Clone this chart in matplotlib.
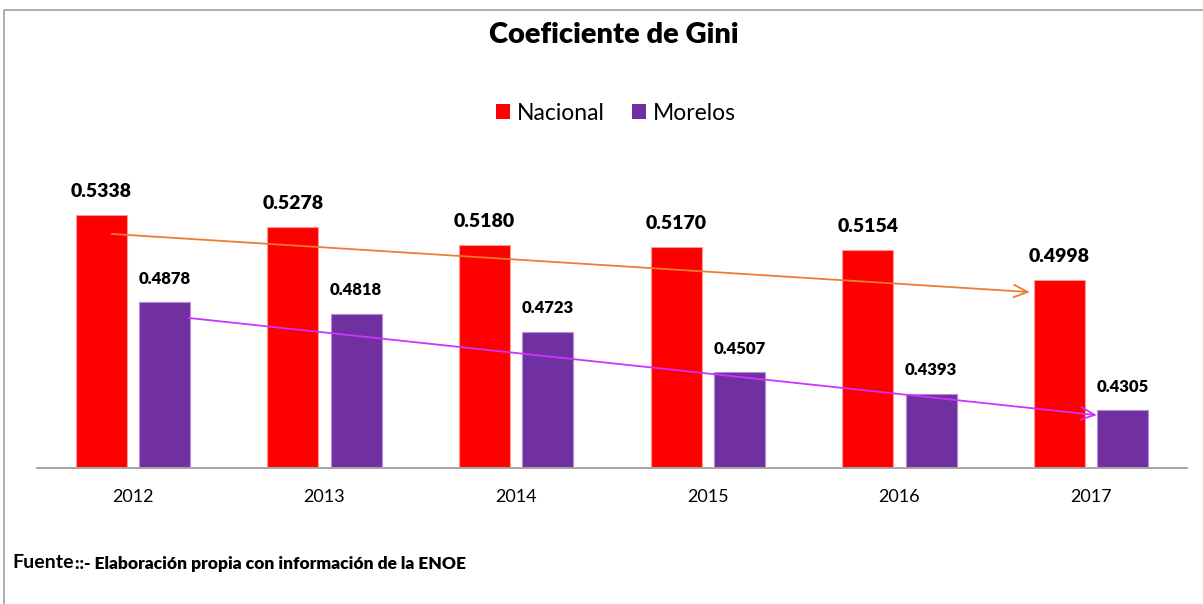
import numpy as np
import matplotlib
matplotlib.use("Agg")
import matplotlib.pyplot as plt
from matplotlib.patches import Patch
from matplotlib.lines import Line2D

plt.rcParams["font.family"] = ["Lato", "DejaVu Sans"]

# Gini values per year
years = ["2012", "2013", "2014", "2015", "2016", "2017"]
nacional = [0.5338, 0.5278, 0.5180, 0.5170, 0.5154, 0.4998]
morelos = [0.4878, 0.4818, 0.4723, 0.4507, 0.4393, 0.4305]

# Trend arrows: (x0, y0, x1, y1) in category / value units
trend_nacional = (-0.11, 0.524, 4.68, 0.4932)
trend_morelos = (0.29, 0.4795, 5.03, 0.428)

RED = "#FF0000"
PURPLE = "#7030A0"

fig = plt.figure(figsize=(12.03, 6.04), dpi=100)
ax = fig.add_axes([37 / 1203, 1 - 468 / 604, 1150 / 1203, 302 / 604])

x = np.arange(len(years))
w = 0.265
ax.bar(x - 0.165, nacional, w, color=RED, edgecolor="#FF9999", linewidth=0.8, zorder=2)
ax.bar(x + 0.165, morelos, w, color=PURPLE, edgecolor="#B48CD0", linewidth=0.8, zorder=2)

for xi, v in zip(x, nacional):
    ax.annotate(f"{v:.4f}", (xi - 0.165, v), xytext=(0, 17), textcoords="offset points",
                ha="center", va="center", fontsize=14, fontweight="heavy")
for xi, v in zip(x, morelos):
    ax.annotate(f"{v:.4f}", (xi + 0.165, v), xytext=(0, 17), textcoords="offset points",
                ha="center", va="center", fontsize=12, fontweight="heavy")

# trend arrows with open heads
for (x0, y0, x1, y1), col in [(trend_nacional, "#ED7D31"), (trend_morelos, "#CC33FF")]:
    ax.annotate("", xy=(x1, y1), xytext=(x0, y0),
                arrowprops=dict(arrowstyle="->,head_length=1.0,head_width=0.45",
                                color=col, lw=1.3, shrinkA=0, shrinkB=0), zorder=3)

ax.set_xlim(-0.5, len(years) - 0.5)
ax.set_ylim(0.40, 0.56)
ax.set_xticks(x)
ax.set_xticklabels(years, fontsize=13)
ax.tick_params(axis="x", length=0, pad=15)
ax.set_yticks([])
for s in ["top", "right", "left"]:
    ax.spines[s].set_visible(False)
ax.spines["bottom"].set_color("#A6A6A6")
ax.spines["bottom"].set_linewidth(1.4)

fig.text(614 / 1203, 1 - 35 / 604, "Coeficiente de Gini", ha="center", va="center",
         fontsize=21, fontweight="heavy")

handles = [Patch(facecolor=RED, label="Nacional"), Patch(facecolor=PURPLE, label="Morelos")]
fig.legend(handles=handles, loc="center", bbox_to_anchor=(616 / 1203, 1 - 113 / 604),
           ncol=2, frameon=False, fontsize=16.5, handlelength=0.6, handleheight=0.6,
           handletextpad=0.3, columnspacing=1.2)

# source note: "Fuente" followed directly by the smaller text
src = fig.text(12 / 1203, 1 - 563 / 604, "Fuente", ha="left", va="center",
               fontsize=14, fontweight="bold")
ax.annotate("::- Elaboración propia con información de la ENOE", xy=(1, 0.45),
            xycoords=src, xytext=(1, 0), textcoords="offset points",
            ha="left", va="center", fontsize=12.5, fontweight="heavy",
            annotation_clip=False)

# outer chart border (left and top edges)
fig.add_artist(Line2D([3.5 / 1203, 3.5 / 1203, 1], [0, 1 - 10 / 604, 1 - 10 / 604],
                      transform=fig.transFigure, color="#A0A0A0", lw=1.2))

fig.savefig("out.png", dpi=100)
